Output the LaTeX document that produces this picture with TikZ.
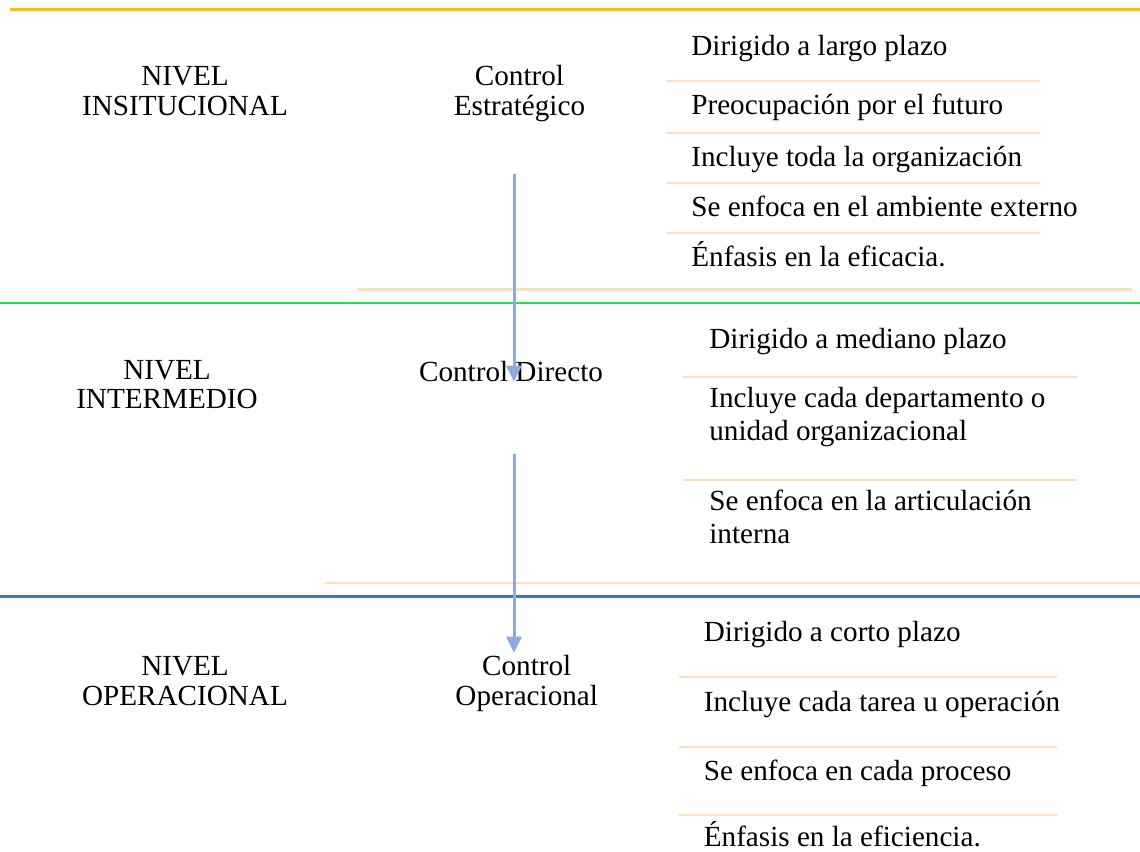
\documentclass[tikz,border=0pt]{standalone}
\usepackage{fontspec}
\setmainfont{Liberation Serif}
\usetikzlibrary{arrows.meta}
\definecolor{amarillo}{HTML}{FFC000}
\definecolor{verde}{HTML}{1EE04A}
\definecolor{azul}{HTML}{4472C4}
\definecolor{durazno}{HTML}{FFDFB8}
\definecolor{celeste}{HTML}{8FAADC}
\newcommand{\letra}{\fontsize{16.6}{16.6}\selectfont}
\newcommand{\letraancha}{\fontsize{16.6}{18.5}\selectfont}

\begin{document}
\begin{tikzpicture}[x=0.02cm, y=-0.02cm,
		item/.style={inner sep=0, font=\letra, anchor=base west, align=left},
		nivel/.style={inner sep=0, font=\letra, anchor=base, align=center},
		sep/.style={line width=0.046cm, color=durazno},
		flecha/.style={line width=0.06cm, color=celeste, -{Triangle[length=0.32cm, width=0.3cm]}}]
			%%%%% START %%%%%
			\useasboundingbox (0, 0) rectangle (1140, 852);
			
			\draw[line width=0.06cm, color=amarillo] (10, 9.5) -- (1140, 9.5);
			\draw[line width=0.054cm, color=verde] (0, 303) -- (1140, 303);
			\draw[line width=0.06cm, color=azul] (0, 596.7) -- (1140, 596.7);
			
			% separadores
			\foreach \y in {80.7, 132.7, 182.7, 232.7}
				\draw[sep] (667, \y) -- (1040, \y);
			\draw[sep] (357, 289.5) -- (1132, 289.5);
			\foreach \y in {376.7, 480}
				\draw[sep] (683, \y) -- (1077, \y);
			\draw[sep] (325, 583.3) -- (1140, 583.3);
			\foreach \y in {677, 747, 815}
				\draw[sep] (679, \y) -- (1057, \y);
			
			% niveles y controles (base = ultima linea)
			\node[nivel] (ninst) at (185, 115) {NIVEL\\INSITUCIONAL};
			\node[nivel] (cest) at (519.5, 115) {Control\\Estratégico};
			\node[nivel] (nint) at (167, 408.3) {NIVEL\\INTERMEDIO};
			\node[nivel] (cdir) at (511, 381.7) {Control Directo};
			\node[nivel] (nope) at (185, 705) {NIVEL\\OPERACIONAL};
			\node[nivel] (cope) at (526.7, 705) {Control\\Operacional};
			
			% institucional
			\node[item] (i1) at (691, 55) {Dirigido a largo plazo};
			\node[item] (i2) at (691, 114) {Preocupación por el futuro};
			\node[item] (i3) at (691, 166) {Incluye toda la organización};
			\node[item] (i4) at (691, 216) {Se enfoca en el ambiente externo};
			\node[item] (i5) at (691, 266) {Énfasis en la eficacia.};
			
			% intermedio
			\node[item] (m1) at (709, 348.3) {Dirigido a mediano plazo};
			\node[item, font=\letraancha] (m2) at (709, 440) {Incluye cada departamento o\\unidad organizacional};
			\node[item, font=\letraancha] (m3) at (709, 543) {Se enfoca en la articulación\\interna};
			
			% operacional
			\node[item] (o1) at (703.5, 641.7) {Dirigido a corto plazo};
			\node[item] (o2) at (703.5, 711) {Incluye cada tarea u operación};
			\node[item] (o3) at (703.5, 780) {Se enfoca en cada proceso};
			\node[item] (o4) at (703.5, 846.7) {Énfasis en la eficiencia.};
			
			% flechas
			\coordinate (a1) at (514, 174);
			\coordinate (b1) at (514, 381.7);
			\coordinate (a2) at (514, 454);
			\coordinate (b2) at (514, 652.7);
			\draw[flecha] (a1) -- (b1);
			\draw[flecha] (a2) -- (b2);
			
			%%%%% END %%%%%
		\end{tikzpicture}
\end{document}
